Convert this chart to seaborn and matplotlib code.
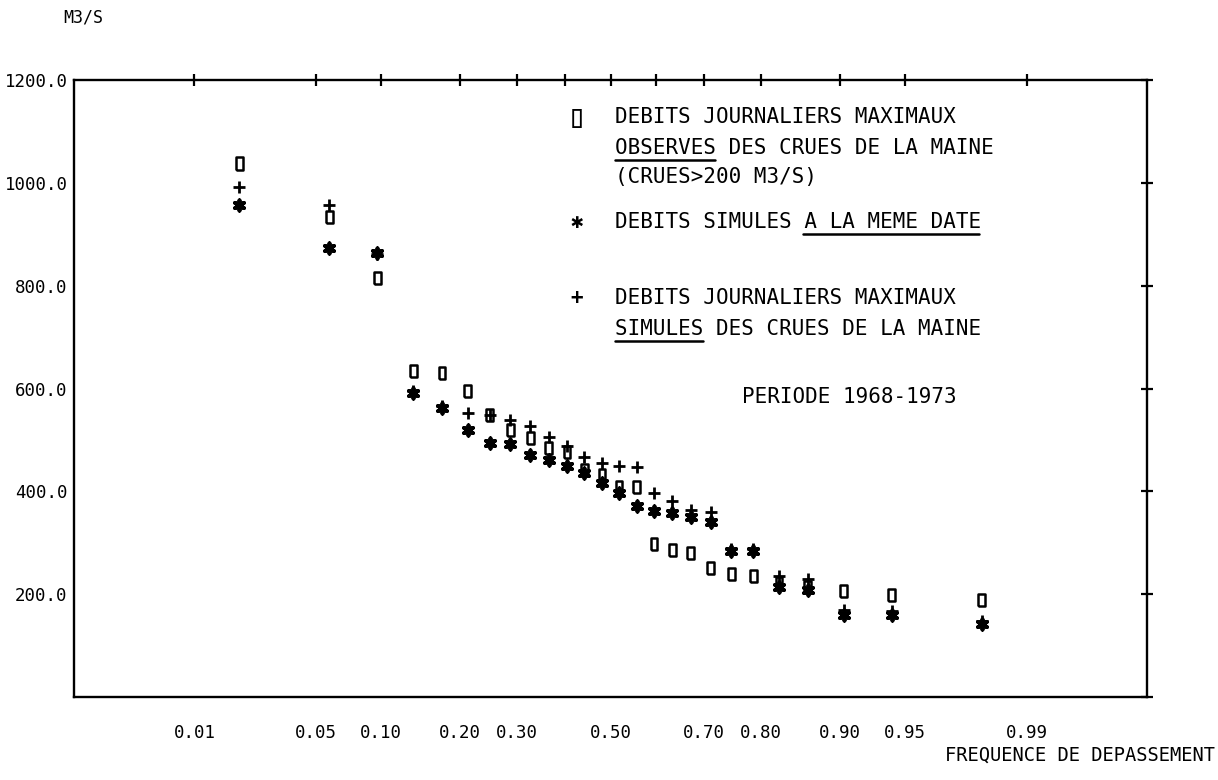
import math
import numpy as np
import pandas as pd
import matplotlib
matplotlib.use("Agg")
import matplotlib.pyplot as plt
from matplotlib.lines import Line2D
from matplotlib.ticker import NullLocator
import seaborn as sns

# Exceedance frequency of each ranked flood (plotted on a normal-probability axis)
freq = [0.019, 0.058, 0.096, 0.135, 0.173, 0.212, 0.250, 0.288, 0.327, 0.365,
        0.404, 0.442, 0.481, 0.519, 0.558, 0.596, 0.635, 0.673, 0.712, 0.750,
        0.788, 0.827, 0.865, 0.904, 0.942, 0.981]

# Daily maximum discharges (m3/s)
observed = [1038, 934, 815, 634, 630, 595, 548, 519, 504, 484,
            476, 442, 432, 408, 408, 298, 286, 280, 251, 239,
            235, 222, 214, 206, 198, 189]
simulated_max = [992, 957, 862, 596, 566, 552, 549, 539, 527, 506,
                 488, 467, 456, 449, 447, 397, 381, 364, 360, 288,
                 287, 236, 229, 170, 168, 148]
simulated_same_day = [957, 873, 864, 591, 562, 519, 494, 492, 471, 461,
                      450, 436, 416, 397, 371, 362, 358, 350, 340, 284,
                      284, 213, 208, 160, 160, 142]

x_ticks = [0.01, 0.05, 0.10, 0.20, 0.30, 0.40, 0.50, 0.60, 0.70, 0.80, 0.90, 0.95, 0.99]
x_tick_labels = ["0.01", "0.05", "0.10", "0.20", "0.30", "", "0.50", "",
                 "0.70", "0.80", "0.90", "0.95", "0.99"]
y_ticks = [0, 200, 400, 600, 800, 1000, 1200]
y_tick_labels = ["", "200.0", "400.0", "600.0", "800.0", "1000.0", "1200.0"]

y_unit = "M3/S"
x_title = "FREQUENCE DE DEPASSEMENT"
period = "PERIODE 1968-1973"

# legend block: (symbol, text, underlined char range or None, y in px)
legend_rows = [
    ("\u25AF", "DEBITS JOURNALIERS MAXIMAUX", None, 117),
    ("", "OBSERVES DES CRUES DE LA MAINE", (0, 8), 148),
    ("", "(CRUES>200 M3/S)", None, 177),
    ("\u2731", "DEBITS SIMULES A LA MEME DATE", (15, 29), 222),
    ("+", "DEBITS JOURNALIERS MAXIMAUX", None, 298),
    ("", "SIMULES DES CRUES DE LA MAINE", (0, 7), 329),
]

_erf = np.vectorize(math.erf, otypes=[float])


def norm_cdf(z):
    z = np.asarray(z, dtype=float)
    return 0.5 * (1.0 + _erf(z / math.sqrt(2.0)))


def norm_ppf(p):
    p = np.clip(np.asarray(p, dtype=float), 1e-12, 1 - 1e-12)
    lo = np.full(p.shape, -9.0)
    hi = np.full(p.shape, 9.0)
    for _ in range(55):
        mid = 0.5 * (lo + hi)
        below = norm_cdf(mid) < p
        lo = np.where(below, mid, lo)
        hi = np.where(below, hi, mid)
    return 0.5 * (lo + hi)


sns.set_style("white")
plt.rcParams["font.family"] = ["DejaVu Sans Mono", "DejaVu Sans"]
plt.rcParams["text.color"] = "black"

W, H = 1218, 780
fig = plt.figure(figsize=(W / 100, H / 100), dpi=100)
ax = fig.add_axes([74 / W, 1 - 697 / H, (1147 - 74) / W, (697 - 80) / H])

df = pd.DataFrame({
    "freq": freq,
    "observed": observed,
    "simulated_max": simulated_max,
    "simulated_same_day": simulated_same_day,
})

rect = [(-0.55, -1.0), (0.55, -1.0), (0.55, 1.0), (-0.55, 1.0), (-0.55, -1.0)]

sns.scatterplot(data=df, x="freq", y="observed", marker=rect, s=80,
                color="black", facecolor="none", edgecolor="black",
                linewidth=1.8, legend=False, ax=ax, zorder=3)
sns.scatterplot(data=df, x="freq", y="simulated_same_day", marker=(6, 2, 0), s=55,
                color="black", linewidth=2.8, legend=False, ax=ax, zorder=4)
sns.scatterplot(data=df, x="freq", y="simulated_max", marker="+", s=75,
                color="black", linewidth=2.0, legend=False, ax=ax, zorder=5)

ax.set_xscale("function", functions=(norm_ppf, norm_cdf))
ax.set_xlim(0.00135, 0.99865)
ax.set_ylim(0, 1200)
ax.set_xticks(x_ticks, x_tick_labels)
ax.set_yticks(y_ticks, y_tick_labels)
ax.xaxis.set_minor_locator(NullLocator())
ax.yaxis.set_minor_locator(NullLocator())
ax.set_xlabel("")
ax.set_ylabel("")

for side in ["left", "right", "top", "bottom"]:
    ax.spines[side].set_visible(True)
    ax.spines[side].set_color("black")
    ax.spines[side].set_linewidth(1.7)

ax.tick_params(axis="both", direction="inout", length=9, width=1.6, color="black",
               top=True, right=True, labeltop=False, labelright=False,
               labelsize=12.5, labelcolor="black")
ax.tick_params(axis="x", pad=15)
ax.tick_params(axis="y", pad=0)

# unit and axis title
fig.text(63 / W, 1 - 18 / H, y_unit, fontsize=12, ha="left", va="center")
fig.text(1215 / W, 1 - 755 / H, x_title, fontsize=13.5, ha="right", va="center")

# legend block drawn as plain text with underlined words
fs_leg = 15
adv = fs_leg * 100 / 72 * 0.602  # monospace character advance in px
sym_x, txt_x = 577, 615
for sym, text, under, y in legend_rows:
    if sym == "\u25AF":
        fig.text(sym_x / W, 1 - y / H, sym, fontsize=24, ha="center",
                 va="center", fontweight="bold")
    elif sym:
        fig.text(sym_x / W, 1 - y / H, sym, fontsize=fs_leg, ha="center",
                 va="center", fontweight="bold")
    fig.text(txt_x / W, 1 - y / H, text, fontsize=fs_leg, ha="left", va="center")
    if under is not None:
        x0 = txt_x + under[0] * adv
        x1 = txt_x + under[1] * adv
        yu = 1 - (y + 12) / H
        fig.add_artist(Line2D([x0 / W, x1 / W], [yu, yu], color="black",
                              linewidth=1.8, transform=fig.transFigure))

fig.text(742 / W, 1 - 397 / H, period, fontsize=fs_leg, ha="left", va="center")

fig.savefig("out.png", dpi=100, facecolor="white")
